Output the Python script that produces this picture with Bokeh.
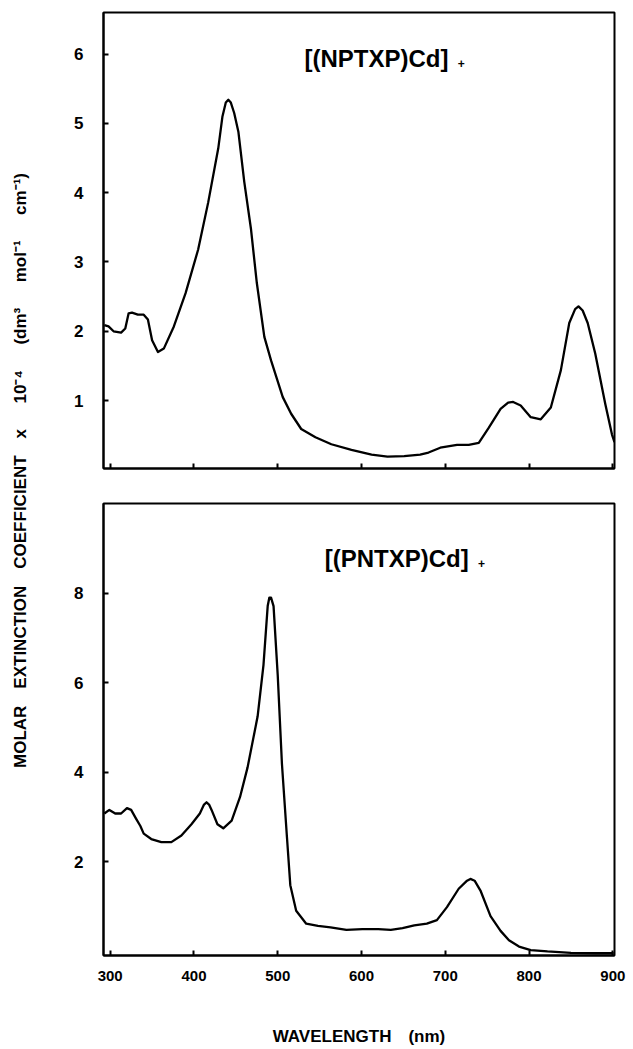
import math
from bokeh.plotting import figure
from bokeh.layouts import row, column
from bokeh.models import FixedTicker, Label, Range1d
from bokeh.embed import file_html
from bokeh.resources import INLINE

# ---- data: [(NPTXP)Cd]+ (top panel) ----
wl_top = [293, 298, 304, 313, 318, 322, 326, 333, 340, 345,
          350, 357, 364, 376, 390, 405, 417, 429, 434, 438,
          441, 444, 448, 453, 460, 468, 475, 484, 492, 506,
          516, 528, 545, 564, 588, 612, 631, 651, 670, 680,
          694, 714, 728, 740, 752, 766, 775, 781, 790, 802,
          814, 826, 838, 848, 855, 859, 864, 870, 879, 891,
          899, 902]
eps_top = [2.09, 2.07, 2.00, 1.98, 2.04, 2.26, 2.27, 2.24, 2.24, 2.17,
           1.87, 1.70, 1.75, 2.07, 2.55, 3.18, 3.86, 4.64, 5.10, 5.30,
           5.34, 5.30, 5.15, 4.88, 4.16, 3.48, 2.70, 1.92, 1.58, 1.05,
           0.81, 0.59, 0.47, 0.37, 0.29, 0.22, 0.19, 0.20, 0.22, 0.25,
           0.32, 0.36, 0.36, 0.39, 0.61, 0.88, 0.97, 0.98, 0.93, 0.76,
           0.73, 0.90, 1.44, 2.12, 2.32, 2.36, 2.30, 2.12, 1.68, 0.95,
           0.51, 0.40]

# ---- data: [(PNTXP)Cd]+ (bottom panel) ----
wl_bot = [293, 299, 306, 313, 320, 325, 331, 336, 340, 349,
          361, 373, 385, 397, 407, 412, 415, 418, 421, 428,
          435, 445, 455, 464, 476, 483, 488, 490, 492, 495,
          500, 505, 511, 515, 522, 534, 548, 563, 582, 601,
          620, 635, 649, 663, 678, 690, 702, 716, 726, 730,
          735, 742, 754, 766, 776, 788, 802, 822, 850, 879,
          901]
eps_bot = [3.08, 3.16, 3.08, 3.08, 3.20, 3.16, 2.96, 2.80, 2.63, 2.51,
           2.44, 2.44, 2.59, 2.84, 3.08, 3.28, 3.33, 3.28, 3.16, 2.84,
           2.75, 2.92, 3.45, 4.11, 5.25, 6.40, 7.71, 7.90, 7.90, 7.71,
           6.16, 4.19, 2.55, 1.48, 0.91, 0.62, 0.57, 0.54, 0.48, 0.50,
           0.50, 0.48, 0.52, 0.58, 0.62, 0.70, 0.99, 1.40, 1.58, 1.62,
           1.58, 1.36, 0.79, 0.46, 0.25, 0.11, 0.03, 0.00, -0.03, -0.04,
           -0.04]

x_ticks = [300, 400, 500, 600, 700, 800, 900]
y_ticks_top = [1, 2, 3, 4, 5, 6]
y_ticks_bot = [2, 4, 6, 8]

title_top = "[(NPTXP)Cd]"
title_bot = "[(PNTXP)Cd]"
charge = "+"
y_label = ("MOLAR\u2003EXTINCTION\u2003COEFFICIENT\u2003x\u2003\u200210\u207b\u2074\u2003\u2002"
           "(dm\u00b3\u2003\u2002mol\u207b\u00b9\u2003\u2002cm\u207b\u00b9)")
x_label = "WAVELENGTH\u2003(nm)"

FONT = "Liberation Sans"
TOTAL_H = 1048


def style(p):
    p.grid.visible = False
    p.outline_line_color = "black"
    p.outline_line_width = 2
    p.background_fill_color = "white"
    p.border_fill_color = "white"
    for ax in p.axis:
        ax.axis_line_width = 2
        ax.axis_line_color = "black"
        ax.major_tick_in = 5
        ax.major_tick_out = 0
        ax.major_tick_line_width = 2
        ax.major_tick_line_color = "black"
        ax.minor_tick_line_color = None
        ax.major_label_text_font = FONT
        ax.major_label_text_font_style = "bold"
        ax.major_label_text_color = "black"


# ---- label column ----
lab = figure(width=48, height=TOTAL_H, x_range=Range1d(0, 48), y_range=Range1d(0, TOTAL_H),
             min_border=0, x_axis_type=None, y_axis_type=None, title=None,
             toolbar_location=None, output_backend="svg")
lab.outline_line_color = None
lab.grid.visible = False
lab.add_layout(Label(x=20, y=TOTAL_H - 470, text=y_label, angle=math.pi / 2,
                     text_align="center", text_baseline="middle",
                     text_font=FONT, text_font_style="bold",
                     text_font_size="17px", text_color="black"))

# ---- top panel ----
top = figure(width=580, height=485, x_range=Range1d(292, 902), y_range=Range1d(0.02, 6.6),
             min_border_left=53, min_border_right=14, min_border_top=12, min_border_bottom=17,
             title=None, toolbar_location=None, output_backend="svg")
top.line(wl_top, eps_top, line_color="black", line_width=2.3, line_join="round")
style(top)
top.xaxis.ticker = FixedTicker(ticks=x_ticks)
top.xaxis.major_label_overrides = {t: "" for t in x_ticks}
top.xaxis.major_label_text_font_size = "1px"
top.xaxis.major_label_standoff = 0
top.yaxis.ticker = FixedTicker(ticks=y_ticks_top)
top.yaxis.major_label_text_font_size = "17px"
top.yaxis.major_label_standoff = 20
top.add_layout(Label(x=532, y=5.94, text=title_top, text_align="left", text_baseline="middle",
                     text_font=FONT, text_font_style="bold", text_font_size="24px",
                     text_color="black"))
top.add_layout(Label(x=715, y=5.87, text=charge, text_align="left", text_baseline="middle",
                     text_font=FONT, text_font_style="bold", text_font_size="12px",
                     text_color="black"))

# ---- bottom panel ----
bot = figure(width=580, height=TOTAL_H - 485, x_range=Range1d(292, 902), y_range=Range1d(-0.09, 10.0),
             min_border_left=55, min_border_right=12, min_border_top=18, min_border_bottom=TOTAL_H - 958,
             title=None, toolbar_location=None, output_backend="svg")
bot.line(wl_bot, eps_bot, line_color="black", line_width=2.3, line_join="round")
style(bot)
bot.xaxis.ticker = FixedTicker(ticks=x_ticks)
bot.xaxis.major_label_text_font_size = "15px"
bot.xaxis.major_label_standoff = 15
bot.xaxis.axis_label = x_label
bot.xaxis.axis_label_text_font = FONT
bot.xaxis.axis_label_text_font_style = "bold"
bot.xaxis.axis_label_text_font_size = "17px"
bot.xaxis.axis_label_text_color = "black"
bot.xaxis.axis_label_standoff = 43
bot.yaxis.ticker = FixedTicker(ticks=y_ticks_bot)
bot.yaxis.major_label_text_font_size = "17px"
bot.yaxis.major_label_standoff = 20
bot.add_layout(Label(x=556, y=8.77, text=title_bot, text_align="left", text_baseline="middle",
                     text_font=FONT, text_font_style="bold", text_font_size="24px",
                     text_color="black"))
bot.add_layout(Label(x=739, y=8.66, text=charge, text_align="left", text_baseline="middle",
                     text_font=FONT, text_font_style="bold", text_font_size="12px",
                     text_color="black"))

layout = row(lab, column(top, bot))
open("out.html", "w").write(file_html(layout, INLINE))
